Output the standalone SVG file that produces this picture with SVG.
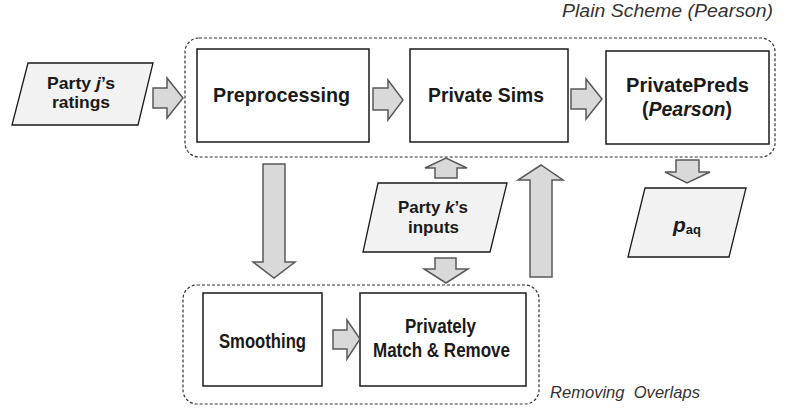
<svg xmlns="http://www.w3.org/2000/svg" width="800" height="412" viewBox="0 0 800 412">
<style>
.bg{fill:#fff}
.box{fill:#fff;stroke:#1a1a1a;stroke-width:1.5}
.grp{fill:none;stroke:#333;stroke-width:1.2;stroke-dasharray:3,2}
.para{fill:#f2f2f2;stroke:#1a1a1a;stroke-width:1.3}
.arr{fill:#d9d9d9;stroke:#595959;stroke-width:1.5;stroke-linejoin:miter}
.t{font-family:"Liberation Sans",Arial,sans-serif;font-weight:bold;fill:#1a1a1a;text-anchor:middle}
.cap{font-family:"Liberation Sans",Arial,sans-serif;font-style:italic;fill:#333;white-space:pre}
</style>
<rect class="bg" x="0" y="0" width="800" height="412"/>
<g id="group-plain">
<rect class="grp" x="185" y="38" width="590" height="119" rx="14"/>
<text class="cap" x="562" y="17" font-size="18" textLength="211" lengthAdjust="spacingAndGlyphs">Plain Scheme (Pearson)</text>
</g>
<g id="group-overlaps">
<rect class="grp" x="183" y="285" width="356" height="119" rx="14"/>
<text class="cap" x="550" y="398" font-size="17" textLength="150" lengthAdjust="spacingAndGlyphs">Removing  Overlaps</text>
</g>
<g id="party-j">
<polygon class="para" points="28,63 153,63 138,125 12,125"/>
<text class="t" x="81" y="89" font-size="16.5" textLength="68" lengthAdjust="spacingAndGlyphs">Party <tspan font-style="italic">j</tspan>’s</text>
<text class="t" x="81" y="108" font-size="16.5" textLength="58" lengthAdjust="spacingAndGlyphs">ratings</text>
</g>
<g id="preprocessing">
<rect class="box" x="197" y="49" width="172" height="93"/>
<text class="t" x="281.5" y="102" font-size="20.5" textLength="137" lengthAdjust="spacingAndGlyphs">Preprocessing</text>
</g>
<g id="private-sims">
<rect class="box" x="410" y="49" width="158" height="93"/>
<text class="t" x="486" y="102" font-size="20.5" textLength="116" lengthAdjust="spacingAndGlyphs">Private Sims</text>
</g>
<g id="private-preds">
<rect class="box" x="606" y="51" width="163" height="93"/>
<text class="t" x="687.5" y="91.5" font-size="20" textLength="123" lengthAdjust="spacingAndGlyphs">PrivatePreds</text>
<text class="t" x="687" y="115.5" font-size="19.5" textLength="90" lengthAdjust="spacingAndGlyphs">(<tspan font-style="italic">Pearson</tspan>)</text>
</g>
<g id="party-k">
<polygon class="para" points="378,183 507,183 490,252 363,252"/>
<text class="t" x="433" y="213" font-size="16.5" textLength="70" lengthAdjust="spacingAndGlyphs">Party <tspan font-style="italic">k</tspan>’s</text>
<text class="t" x="433.5" y="233" font-size="16.5" textLength="51" lengthAdjust="spacingAndGlyphs">inputs</text>
</g>
<g id="paq">
<polygon class="para" points="645,188 746,188 729,257 628,257"/>
<text class="t" x="687" y="232" font-size="21"><tspan font-style="italic">p</tspan><tspan font-size="13" dy="2">aq</tspan></text>
</g>
<g id="smoothing">
<rect class="box" x="203" y="293" width="119" height="93"/>
<text class="t" x="262.5" y="348" font-size="20" textLength="87" lengthAdjust="spacingAndGlyphs">Smoothing</text>
</g>
<g id="match-remove">
<rect class="box" x="360" y="293" width="166" height="93"/>
<text class="t" x="440.5" y="333" font-size="20" textLength="71" lengthAdjust="spacingAndGlyphs">Privately</text>
<text class="t" x="441.5" y="357" font-size="20" textLength="137" lengthAdjust="spacingAndGlyphs">Match &amp; Remove</text>
</g>
<g id="connectors">
<polygon class="arr" points="153,88 167,88 167,78 183,98 167,118 167,108 153,108"/>
<polygon class="arr" points="373,88 388,88 388,80 403,100 388,120 388,110 373,110"/>
<polygon class="arr" points="571,89 586,89 586,79 602,99 586,119 586,109 571,109"/>
<polygon class="arr" points="263,164 285,164 285,262 295,262 274,278 253,262 263,262"/>
<polygon class="arr" points="435,178 435,168 425,168 446,158 467,168 457,168 457,178"/>
<polygon class="arr" points="435,258 456,258 456,269 468,269 446,283 424,269 435,269"/>
<polygon class="arr" points="530,277 530,180 518,180 541,165 563,180 552,180 552,277"/>
<polygon class="arr" points="676,160 699,160 699,172 710,172 687,183 665,172 676,172"/>
<polygon class="arr" points="333,330 347,330 347,320 360,339 347,359 347,349 333,349"/>
</g>
</svg>
